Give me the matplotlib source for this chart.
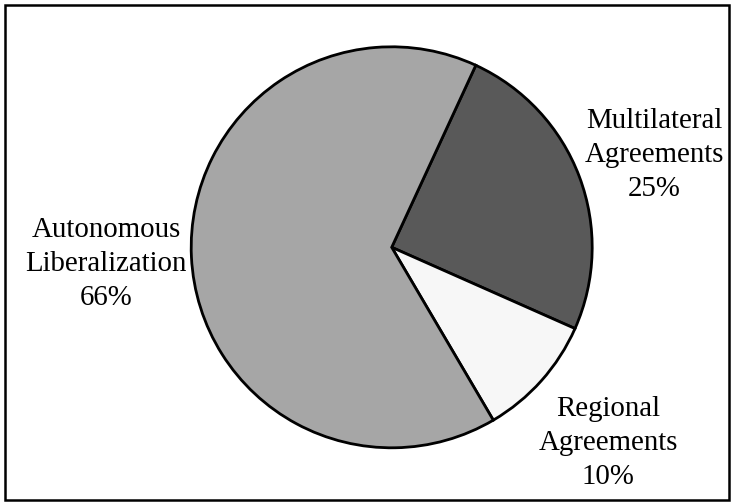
import matplotlib
matplotlib.use("Agg")
import matplotlib.pyplot as plt
from matplotlib.patches import Rectangle

plt.rcParams['font.family'] = ['Liberation Serif', 'DejaVu Serif']

categories = ["Multilateral\nAgreements", "Regional\nAgreements", "Autonomous\nLiberalization"]
shares = [25, 10, 66]
colors = ["#595959", "#F7F7F7", "#A6A6A6"]

W, H = 733, 504
fig = plt.figure(figsize=(W / 100, H / 100), dpi=100)

# outer frame
fig.patches.append(Rectangle((4.5 / W, 4.5 / H), (729 - 4.5) / W, (499.5 - 4.5) / H,
                             transform=fig.transFigure, fill=False,
                             edgecolor="black", linewidth=1.8))

cx, cy, r = 391.7, 247.3, 200.5
ax = fig.add_axes([(cx - r) / W, (H - cy - r) / H, 2 * r / W, 2 * r / H])
ax.pie(shares, colors=colors, startangle=65.2, counterclock=False, radius=1.0,
       wedgeprops=dict(edgecolor="black", linewidth=2.0))
ax.set_xlim(-1, 1)
ax.set_ylim(-1, 1)
ax.set_aspect("auto")
ax.axis("off")

label_pos = [(654, 155), (608, 443), (106, 264)]
for (px, py), name, val in zip(label_pos, categories, shares):
    fig.text(px / W, 1 - py / H, f"{name}\n{val}%", ha="center", va="center",
             fontsize=20.8, linespacing=1.38)

fig.savefig("out.png", dpi=100)
